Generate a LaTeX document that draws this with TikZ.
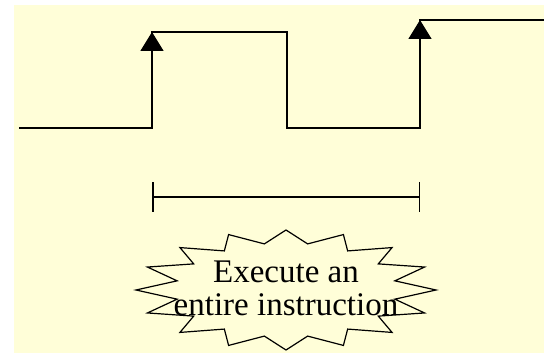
\documentclass[tikz,border=0pt]{standalone}
\usepackage{fontspec}
\setmainfont{Liberation Serif}
\usepackage{xcolor}
\definecolor{paper}{RGB}{255, 254, 216}
\usepackage{tikz}
\usetikzlibrary{arrows.meta}

\begin{document}
\begin{tikzpicture}[x=1pt, y=1pt, line join=miter,
    wave/.style={line width=1.5pt},
    edge/.style={line width=1.5pt, -{Triangle[length=19pt, width=23pt]}},
    burst/.style={line width=1.2pt, fill=paper}]
    \useasboundingbox (0, 0) rectangle (544, 354);

    % Background sheet
    \fill[paper] (14, 1) rectangle (544, 349);

    % Clock corners
    \coordinate (start) at (19, 226);
    \coordinate (rise1low) at (152, 226);
    \coordinate (rise1high) at (152, 322);
    \coordinate (fall1high) at (287, 322);
    \coordinate (fall1low) at (287, 226);
    \coordinate (rise2low) at (420, 226);
    \coordinate (rise2high) at (420, 334);
    \coordinate (high2end) at (544, 334);

    % Clock waveform
    \draw[wave] (start) -- (rise1low) -- (rise1high) -- (fall1high) -- (fall1low)
        -- (rise2low) -- (rise2high) -- (high2end);

    % Rising edges
    \draw[edge] (rise1low) -- (rise1high);
    \draw[edge] (rise2low) -- (rise2high);

    % One clock period
    \coordinate (spanL) at (152, 157);
    \coordinate (spanR) at (420, 157);
    \draw[wave, {Bar[width=30pt]}-{Bar[width=30pt]}] (spanL) -- (spanR);

    % 16-point star
    \coordinate (burstC) at (286, 64);
    \draw[burst, shift={(burstC)}] (90:150 and 60)
        \foreach \k in {0,...,15} {
            -- ({90+22.5*\k+11.25}:111 and 47) -- ({90+22.5*\k+22.5}:150 and 60)
        } -- cycle;
    \node[font=\fontsize{33}{33}\selectfont, align=center, inner sep=0pt] (task) at (286, 66)
        {Execute an\\entire instruction};
\end{tikzpicture}
\end{document}
